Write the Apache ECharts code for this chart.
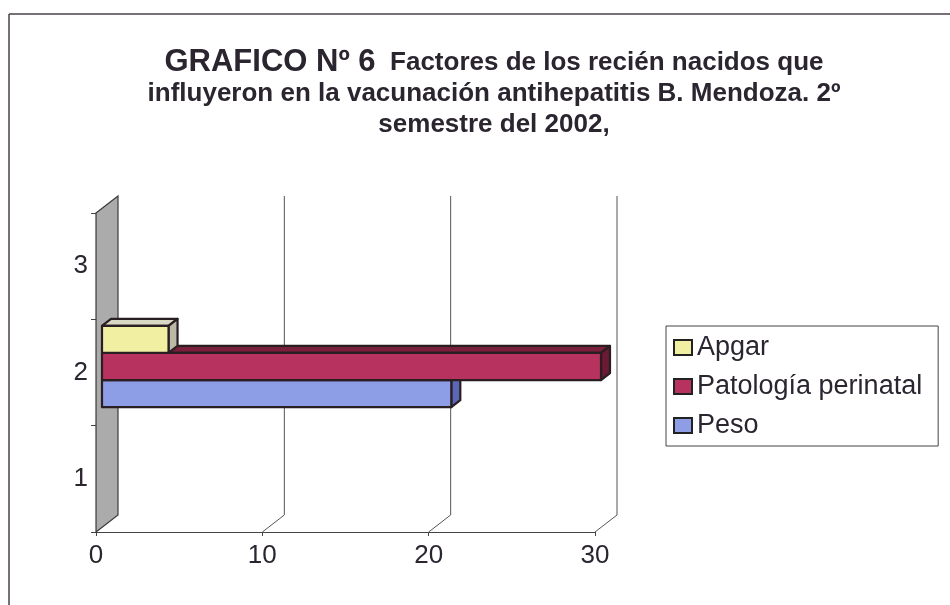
<!DOCTYPE html>
<html>
<head>
<meta charset="utf-8">
<script src="https://cdn.jsdelivr.net/npm/echarts@6/dist/echarts.min.js"></script>
<style>html,body{margin:0;padding:0;background:#fff;}#c{width:950px;height:605px;}</style>
</head>
<body>
<div id="c"></div>
<script>
// ---- data ----
var categories = ['1', '2', '3'];
var seriesNames = ['Peso', 'Patología perinatal', 'Apgar'];
var peso = [null, 21, null];
var patologia = [null, 30, null];
var apgar = [null, 4, null];
var xTicks = [0, 10, 20, 30];

var colors = {
  'Peso':   {front: '#8d9ee6', top: '#a7b4ea', side: '#5b68b8'},
  'Patología perinatal': {front: '#b7325e', top: '#7a1f3c', side: '#6a1a33'},
  'Apgar':  {front: '#f1efa2', top: '#d9d8c4', side: '#b9b9a6'}
};
var TXT = '#2b2530';
var EDGE = '#2a1e22';
var DEPTH = [22, -17];      // depth of the whole 3D box
var BAR_OFF = [6, -6];      // front face of bars inside the box
var BAR_DEP = [9, -7];      // bar depth

function toData(arr) {
  var out = [];
  arr.forEach(function (v, i) { if (v != null) out.push([v, i]); });
  return out;
}

function barRenderer(slot) {
  return function (params, api) {
    var v = api.value(0), c = api.value(1);
    var p0 = api.coord([0, c]);
    var p1 = api.coord([v, c]);
    var band = api.size([0, 1])[1];
    var barH = band * 0.255;
    var groupTop = p0[1] - band * 0.765 / 2;
    var y0 = groupTop + slot * barH + BAR_OFF[1];
    var x0 = p0[0] + BAR_OFF[0];
    var x1 = p1[0] + BAR_OFF[0];
    var col = colors[params.seriesName];
    var dx = BAR_DEP[0], dy = BAR_DEP[1];
    var st = {stroke: EDGE, lineWidth: 2.2, lineJoin: 'round'};
    return {
      type: 'group',
      children: [
        {type: 'polygon', shape: {points: [[x0, y0], [x0 + dx, y0 + dy], [x1 + dx, y0 + dy], [x1, y0]]},
          style: Object.assign({fill: col.top}, st)},
        {type: 'polygon', shape: {points: [[x1, y0], [x1 + dx, y0 + dy], [x1 + dx, y0 + barH + dy], [x1, y0 + barH]]},
          style: Object.assign({fill: col.side}, st)},
        {type: 'rect', shape: {x: x0, y: y0, width: x1 - x0, height: barH},
          style: Object.assign({fill: col.front}, st)}
      ]
    };
  };
}

function decorRenderer(params, api) {
  var cs = params.coordSys;
  var x = cs.x, y = cs.y, w = cs.width, h = cs.height;
  var dx = DEPTH[0], dy = DEPTH[1];
  var children = [];
  xTicks.forEach(function (t) {
    if (t === 0) return;
    var px = api.coord([t, 0])[0];
    children.push({type: 'line', shape: {x1: px + dx, y1: y + h + dy, x2: px + dx, y2: y + dy},
      style: {stroke: '#555', lineWidth: 1}});
    children.push({type: 'line', shape: {x1: px, y1: y + h, x2: px + dx, y2: y + h + dy},
      style: {stroke: '#555', lineWidth: 1}});
  });
  children.push({type: 'polygon', shape: {points: [[x, y], [x + dx, y + dy], [x + dx, y + h + dy], [x, y + h]]},
    style: {fill: '#ababab', stroke: '#3a3a3a', lineWidth: 1.2}});
  return {type: 'group', children: children};
}

var chart = echarts.init(document.getElementById('c'));
chart.setOption({
  backgroundColor: '#ffffff',
  animation: false,
  graphic: [
    {type: 'line', shape: {x1: 9, y1: 14, x2: 950, y2: 14}, style: {stroke: '#4a4048', lineWidth: 1.5}},
    {type: 'line', shape: {x1: 9, y1: 14, x2: 9, y2: 605}, style: {stroke: '#4a4048', lineWidth: 1.5}},
    {type: 'text', x: 494, y: 47, style: {
      text: '{a|GRAFICO Nº 6}{b|  Factores de los recién nacidos que}\n{b|influyeron en la vacunación antihepatitis B. Mendoza. 2º}\n{b|semestre del 2002,}',
      align: 'center', textAlign: 'center', fill: TXT,
      rich: {
        a: {fontFamily: 'Liberation Sans', fontWeight: 'bold', fontSize: 31, lineHeight: 31, fill: TXT},
        b: {fontFamily: 'Liberation Sans', fontWeight: 'bold', fontSize: 26, lineHeight: 31, fill: TXT}
      }
    }}
  ],
  legend: {
    orient: 'vertical',
    left: 666, top: 326,
    data: ['Apgar', 'Patología perinatal', 'Peso'],
    icon: 'rect', itemWidth: 18, itemHeight: 15, itemGap: 12,
    padding: [8, 16, 7, 7],
    borderColor: '#444', borderWidth: 1,
    itemStyle: {borderColor: '#222', borderWidth: 2},
    textStyle: {fontFamily: 'Liberation Sans', fontSize: 27, color: TXT}
  },
  grid: {left: 96, top: 213, width: 499, height: 319, containLabel: false},
  xAxis: {
    type: 'value', min: 0, max: 30, interval: 10,
    axisLine: {show: true, lineStyle: {color: '#444', width: 1.2}},
    axisTick: {show: true, length: 4, lineStyle: {color: '#444'}},
    splitLine: {show: false},
    axisLabel: {fontFamily: 'Liberation Sans', fontSize: 26, color: TXT, margin: 11}
  },
  yAxis: {
    type: 'category', data: categories,
    axisLine: {show: false},
    axisTick: {show: true, length: 5, lineStyle: {color: '#444'}},
    axisLabel: {fontFamily: 'Liberation Sans', fontSize: 26, color: TXT, margin: 8}
  },
  series: [
    {type: 'custom', name: '_decor', silent: true, z: 1, data: [[0, 0]], renderItem: decorRenderer},
    {type: 'custom', name: 'Peso', z: 2, itemStyle: {color: colors['Peso'].front},
      data: toData(peso), renderItem: barRenderer(2)},
    {type: 'custom', name: 'Patología perinatal', z: 3, itemStyle: {color: colors['Patología perinatal'].front},
      data: toData(patologia), renderItem: barRenderer(1)},
    {type: 'custom', name: 'Apgar', z: 4, itemStyle: {color: colors['Apgar'].front},
      data: toData(apgar), renderItem: barRenderer(0)}
  ]
});
</script>
</body>
</html>
